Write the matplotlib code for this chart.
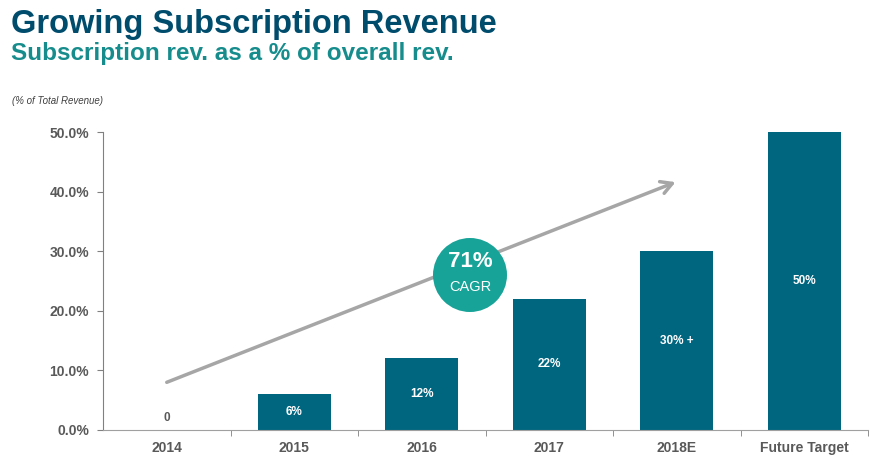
import numpy as np
import matplotlib.pyplot as plt
from matplotlib.patches import Ellipse
from matplotlib.ticker import FixedLocator

plt.rcParams['font.family'] = ['Liberation Sans', 'DejaVu Sans']

categories = ["2014", "2015", "2016", "2017", "2018E", "Future Target"]
share = [0, 6, 12, 22, 30, 50]
bar_labels = ["0", "6%", "12%", "22%", "30% +", "50%"]
yticks = [0, 10, 20, 30, 40, 50]
cagr_start = (0, 8)
cagr_end = (3.99, 41.6)

BAR = "#00657F"
GREY_TXT = "#595959"

fig = plt.figure(figsize=(8.84, 4.65), dpi=100)
ax = fig.add_axes([0.1165, 0.0753, 0.8655, 0.6407])

x = np.arange(len(categories))
ax.bar(x, share, width=0.57, color=BAR, zorder=2)

for i, (v, lab) in enumerate(zip(share, bar_labels)):
    if v == 0:
        ax.text(i, 2, lab, ha="center", va="center", fontsize=8.5, fontweight="bold", color=GREY_TXT)
    else:
        ax.text(i, v / 2, lab, ha="center", va="center", fontsize=8.5, fontweight="bold", color="white", zorder=3)

ax.set_xlim(-0.5, len(categories) - 0.5)
ax.set_ylim(0, 50)
ax.set_yticks(yticks)
ax.set_yticklabels(["%.1f%%" % t for t in yticks])
ax.set_xticks(x)
ax.set_xticklabels(categories)
ax.xaxis.set_minor_locator(FixedLocator(np.arange(0.5, len(categories), 1.0)))
ax.tick_params(axis="x", which="major", length=0, pad=8)
ax.tick_params(axis="x", which="minor", length=4, color="#808080", direction="out")
ax.tick_params(axis="y", length=4, color="#808080", pad=6)
for lab in ax.get_xticklabels() + ax.get_yticklabels():
    lab.set_fontweight("bold")
    lab.set_fontsize(10)
    lab.set_color(GREY_TXT)

for s in ["top", "right"]:
    ax.spines[s].set_visible(False)
ax.spines["left"].set_color("#808080")
ax.spines["bottom"].set_color("#A0A0A0")

# CAGR arrow
ax.annotate("", xy=cagr_end, xytext=cagr_start,
            arrowprops=dict(arrowstyle="->,head_length=0.8,head_width=0.45", color="#A6A6A6", lw=2.5,
                            shrinkA=0, shrinkB=0), zorder=1)

# CAGR bubble, sized in pixels so it stays round
cx, cy = 470, 275
fx, fy = cx / 884, 1 - cy / 465
r = 37
circ = Ellipse((fx, fy), 2 * r / 884, 2 * r / 465, transform=fig.transFigure,
               facecolor="#17A398", edgecolor="none", zorder=5)
fig.patches.append(circ)
fig.text(fx, fy + 0.03, "71%", ha="center", va="center", fontsize=16, fontweight="bold", color="white", zorder=6)
fig.text(fx, fy - 0.025, "CAGR", ha="center", va="center", fontsize=10.5, color="white", zorder=6)

fig.text(0.012, 0.929, "Growing Subscription Revenue", ha="left", va="baseline",
         fontsize=23.5, fontweight="bold", color="#004C6D")
fig.text(0.012, 0.871, "Subscription rev. as a % of overall rev.", ha="left", va="baseline",
         fontsize=17.5, fontweight="bold", color="#178C8C")
fig.text(0.014, 0.783, "(% of Total Revenue)", ha="left", va="center",
         fontsize=7, fontstyle="italic", color="#404040")

fig.savefig("out.png", dpi=100)
